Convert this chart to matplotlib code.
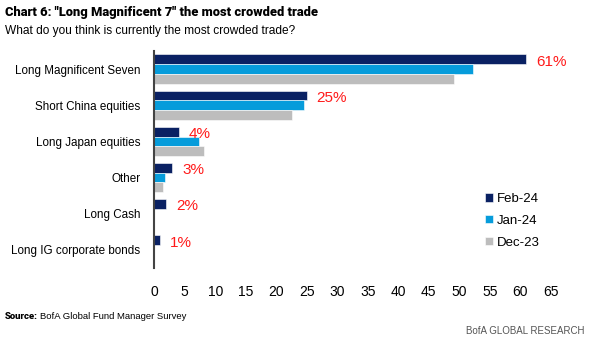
import numpy as np
import matplotlib.pyplot as plt

plt.rcParams['font.family'] = ['Liberation Sans', 'DejaVu Sans']

categories = ['Long Magnificent Seven', 'Short China equities', 'Long Japan equities',
              'Other', 'Long Cash', 'Long IG corporate bonds']
feb_24 = [61, 25, 4, 3, 2, 1]
jan_24 = [52.3, 24.6, 7.3, 1.8, 0, 0]
dec_23 = [49.2, 22.5, 8.2, 1.4, 0, 0]
series_names = ['Feb-24', 'Jan-24', 'Dec-23']
colors = ['#0a2163', '#069cdb', '#bdbdbd']

fig = plt.figure(figsize=(5.93, 3.40), dpi=100)
ax = fig.add_axes([0.26, 0.212, 0.669, 0.638])

y = np.arange(len(categories))
h = 0.27
for i, (vals, name, c) in enumerate(zip([feb_24, jan_24, dec_23], series_names, colors)):
    ax.barh(y + (i - 1) * h, vals, height=h, color=c, label=name,
            edgecolor='white', linewidth=0.4)

# percentage labels next to the latest month
for yi, v in zip(y, feb_24):
    ax.text(v + 1.6, yi - h + 0.07, f'{v}%', color='#ff1a1a', fontsize=11,
            va='center', ha='left')

ax.set_ylim(len(categories) - 0.5, -0.5)
ax.set_xlim(0, 65)
ax.set_xticks(range(0, 70, 5))
ax.set_yticks(y)
ax.set_yticklabels(categories)
ax.tick_params(axis='x', length=0, labelsize=10, pad=12)
ax.tick_params(axis='y', length=0, labelsize=8.4, pad=10)
for s in ['top', 'right', 'bottom']:
    ax.spines[s].set_visible(False)
ax.spines['left'].set_color('#444444')
ax.spines['left'].set_linewidth(1.5)

ax.legend(loc='upper left', bbox_to_anchor=(0.805, 0.40), frameon=False,
          fontsize=9.5, handlelength=0.6, handleheight=0.6, handletextpad=0.3,
          labelspacing=0.75)

fig.text(0.008, 0.962, 'Chart 6: "Long Magnificent 7" the most crowded trade',
         fontsize=9.3, fontweight='heavy', family='Roboto', va='center')
fig.text(0.008, 0.908, 'What do you think is currently the most crowded trade?',
         fontsize=8.6, va='center')
src = fig.text(0.008, 0.07, 'Source:', fontsize=6.8, fontweight='heavy',
               family='Roboto', va='center')
fig.canvas.draw()
bb = src.get_window_extent().transformed(fig.transFigure.inverted())
fig.text(bb.x1 + 0.004, 0.07, 'BofA Global Fund Manager Survey', fontsize=6.8,
         va='center')
fig.text(0.985, 0.025, 'BofA GLOBAL RESEARCH', fontsize=7, va='center',
         ha='right', color='#555555')

fig.savefig('out.png', dpi=100)
